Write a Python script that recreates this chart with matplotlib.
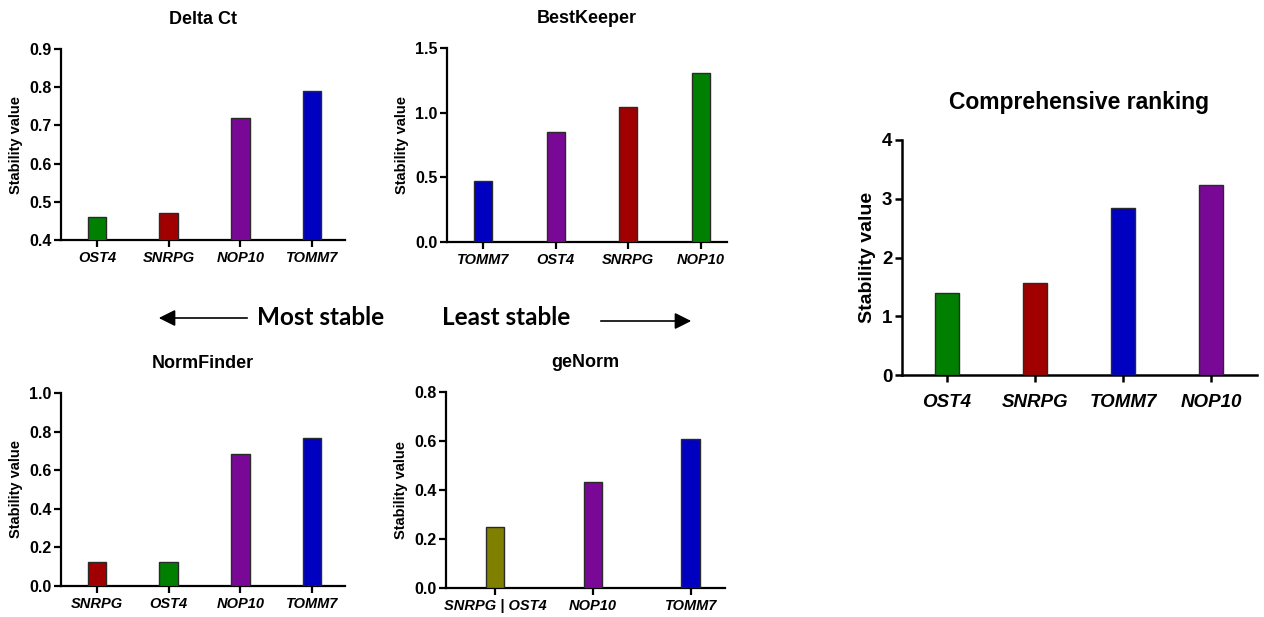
import matplotlib
matplotlib.use("Agg")
import matplotlib.pyplot as plt

W, H = 1264, 617

GREEN = "#007f00"
RED = "#a00000"
PURPLE = "#790896"
BLUE = "#0000c0"
OLIVE = "#7f7f00"

# ---- data ----
delta_genes = ["OST4", "SNRPG", "NOP10", "TOMM7"]
delta_vals = [0.46, 0.47, 0.72, 0.79]
delta_colors = [GREEN, RED, PURPLE, BLUE]

bk_genes = ["TOMM7", "OST4", "SNRPG", "NOP10"]
bk_vals = [0.47, 0.85, 1.04, 1.31]
bk_colors = [BLUE, PURPLE, RED, GREEN]

nf_genes = ["SNRPG", "OST4", "NOP10", "TOMM7"]
nf_vals = [0.125, 0.125, 0.685, 0.765]
nf_colors = [RED, GREEN, PURPLE, BLUE]

gn_genes = ["SNRPG | OST4", "NOP10", "TOMM7"]
gn_vals = [0.25, 0.431, 0.61]
gn_colors = [OLIVE, PURPLE, BLUE]

comp_genes = ["OST4", "SNRPG", "TOMM7", "NOP10"]
comp_vals = [1.40, 1.57, 2.84, 3.23]
comp_colors = [GREEN, RED, BLUE, PURPLE]

plt.rcParams["font.family"] = ["Liberation Sans", "DejaVu Sans"]
fig = plt.figure(figsize=(W / 100, H / 100), dpi=100)


def make_ax(left, right, top, bottom):
    return fig.add_axes([left / W, 1 - bottom / H, (right - left) / W, (bottom - top) / H])


def panel(ax, genes, vals, colors, title, ylim, yticks, yfmt, xlim, width,
          fs_ytick=11.5, fs_xtick=10.5, fs_label=10.5, fs_title=13, title_pad=18,
          lw=1.6, xpad=3):
    x = list(range(len(genes)))
    ax.bar(x, vals, width=width, color=colors, edgecolor="#2a2a2a", linewidth=1.0, zorder=3)
    ax.set_xlim(*xlim)
    ax.set_ylim(*ylim)
    ax.set_yticks(yticks)
    ax.set_yticklabels([yfmt.format(v) for v in yticks], fontsize=fs_ytick, fontweight="bold")
    ax.set_xticks(x)
    ax.set_xticklabels(genes, fontsize=fs_xtick, fontweight="bold", fontstyle="italic")
    for s in ["top", "right"]:
        ax.spines[s].set_visible(False)
    for s in ["left", "bottom"]:
        ax.spines[s].set_linewidth(lw)
    ax.tick_params(axis="both", width=lw, length=5, direction="out")
    ax.tick_params(axis="y", pad=2)
    ax.tick_params(axis="x", pad=xpad)
    ax.set_ylabel("Stability value", fontsize=fs_label, fontweight="bold", labelpad=4)
    ax.set_title(title, fontsize=fs_title, fontweight="bold", pad=title_pad)


ax1 = make_ax(61, 345, 49, 240)
panel(ax1, delta_genes, delta_vals, delta_colors, "Delta Ct", (0.4, 0.9),
      [0.4, 0.5, 0.6, 0.7, 0.8, 0.9], "{:.1f}", (-0.5, 3.46), 0.26)

ax2 = make_ax(447, 727, 48, 242)
panel(ax2, bk_genes, bk_vals, bk_colors, "BestKeeper", (0, 1.5),
      [0.0, 0.5, 1.0, 1.5], "{:.1f}", (-0.5, 3.36), 0.25)

ax3 = make_ax(61, 345, 393, 586)
panel(ax3, nf_genes, nf_vals, nf_colors, "NormFinder", (0, 1.0),
      [0.0, 0.2, 0.4, 0.6, 0.8, 1.0], "{:.1f}", (-0.5, 3.46), 0.26)

ax4 = make_ax(446, 725, 392, 588)
panel(ax4, gn_genes, gn_vals, gn_colors, "geNorm", (0, 0.8),
      [0.0, 0.2, 0.4, 0.6, 0.8], "{:.1f}", (-0.5, 2.35), 0.19)

ax5 = make_ax(902, 1257, 140, 375)
panel(ax5, comp_genes, comp_vals, comp_colors, "Comprehensive ranking", (0, 4),
      [0, 1, 2, 3, 4], "{:d}", (-0.51, 3.52), 0.27,
      fs_ytick=13.5, fs_xtick=13.5, fs_label=14, fs_title=16.5, title_pad=22,
      lw=1.8, xpad=9)

# ---- middle annotation ----
arrow_font = ["Lato", "DejaVu Sans"]
fig.text(321 / W, 1 - 318 / H, "Most stable", ha="center", va="center",
         fontsize=17.5, fontweight="bold", family=arrow_font)
fig.text(506 / W, 1 - 318 / H, "Least stable", ha="center", va="center",
         fontsize=17.5, fontweight="bold", family=arrow_font)
fig.patches.append(matplotlib.patches.FancyArrowPatch(
    (250 / W, 1 - 318 / H), (156 / W, 1 - 318 / H), transform=fig.transFigure,
    arrowstyle="-|>,head_length=10,head_width=5", color="black", linewidth=1.2,
    mutation_scale=1))
fig.patches.append(matplotlib.patches.FancyArrowPatch(
    (598 / W, 1 - 321 / H), (694 / W, 1 - 321 / H), transform=fig.transFigure,
    arrowstyle="-|>,head_length=10,head_width=5", color="black", linewidth=1.2,
    mutation_scale=1))

fig.savefig("out.png", dpi=100, facecolor="white")
